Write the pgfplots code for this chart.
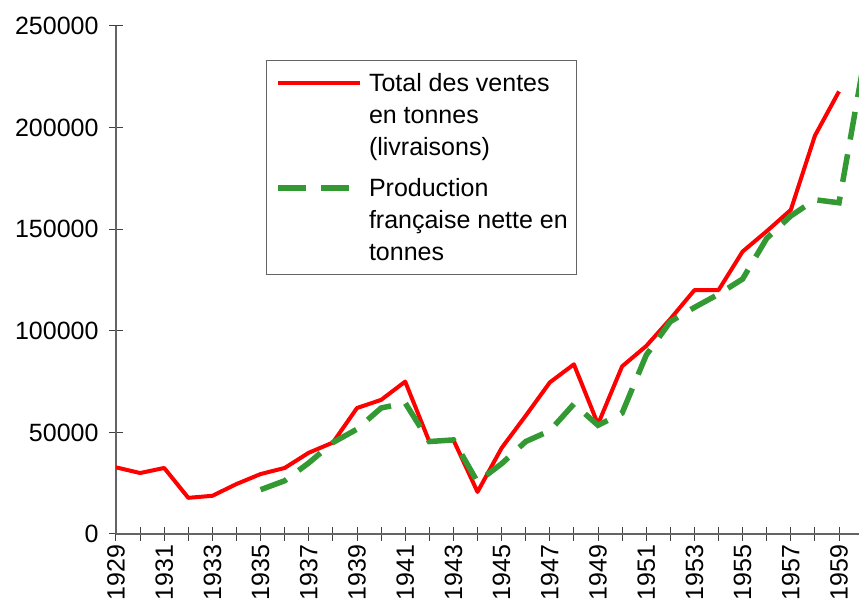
\documentclass[border=0pt]{standalone}
\usepackage{fontspec}
\setmainfont{Liberation Sans}
\usepackage{pgfplots}
\pgfplotsset{compat=1.18}
\definecolor{ventes}{RGB}{255,0,0}
\definecolor{prod}{RGB}{51,153,51}
\definecolor{axisgray}{RGB}{100,100,100}
\newcommand{\lbl}{\fontsize{25}{30}\selectfont}
\newcommand{\leg}{\fontsize{25}{32}\selectfont}

\begin{document}
\begin{tikzpicture}
\begin{axis}[
  at={(0pt,0pt)}, anchor=south west,
  scale only axis, width=743pt, height=508pt,
  xmin=1929, xmax=1959.83, ymin=0, ymax=250000,
  axis lines=left, axis line style={-, draw=axisgray, line width=1.2pt},
  xtick={1929,1931,...,1959}, minor xtick={1930,1932,...,1958},
  ytick={0,50000,...,250000},
  tick align=center, major tick length=14pt, minor tick length=14pt,
  every tick/.style={draw=black!75, line width=1pt},
  every minor tick/.style={draw=black!75, line width=1pt},
  every tick label/.append style={font=\lbl},
  /pgf/number format/assume math mode=true,
  /pgf/number format/fixed,
  /pgf/number format/precision=0,
  /pgf/number format/1000 sep={},
  scaled y ticks=false, scaled x ticks=false,
  x tick label style={rotate=90, anchor=east},
  y tick label style={xshift=-7pt},
  legend style={at={(rel axis cs:0.2019,0.9331)}, anchor=north west,
    draw=axisgray, line width=1pt, inner xsep=9pt, inner ysep=13pt,
    row sep=21pt, column sep=6pt, font=\leg,
    cells={anchor=west, align=left}, nodes={inner sep=0pt}},
  legend image code/.code={\draw[#1] (0pt,32pt) -- (82pt,32pt);},
]
\addplot[ventes, line width=4pt, line join=round] coordinates {
  (1929,32800) (1930,30000) (1931,32500) (1932,17800) (1933,18800)
  (1934,24600) (1935,29500) (1936,32500) (1937,40000) (1938,45000)
  (1939,62000) (1940,66000) (1941,75000) (1942,45500) (1943,46300)
  (1944,20700) (1945,42300) (1946,58200) (1947,74600) (1948,83500)
  (1949,54000) (1950,82500) (1951,92500) (1952,105800) (1953,120000)
  (1954,120000) (1955,139000) (1956,149000) (1957,159500) (1958,196000)
  (1959,217800)
};
\addlegendentry{Total des ventes\\en tonnes\\(livraisons)}
\addplot[prod, line width=5.5pt, dash pattern=on 28pt off 15pt] coordinates {
  (1935,21800) (1936,26200) (1937,35000) (1938,45000) (1939,51600)
  (1940,62000) (1941,64500) (1942,45500) (1943,46300) (1944,25600)
  (1945,34600) (1946,45500) (1947,50800) (1948,64000) (1949,53500)
  (1950,59500) (1951,88000) (1952,104500) (1953,111500) (1954,118000)
  (1955,125500) (1956,145500) (1957,156500) (1958,164500) (1959,163000)
  (1960,230000)
};
\addlegendentry{Production\\fran\c{c}aise nette en\hspace{5pt}\\tonnes}
\end{axis}
\pgfresetboundingbox
\useasboundingbox (-116pt,-73pt) rectangle (743pt,534pt);
\end{tikzpicture}
\end{document}
